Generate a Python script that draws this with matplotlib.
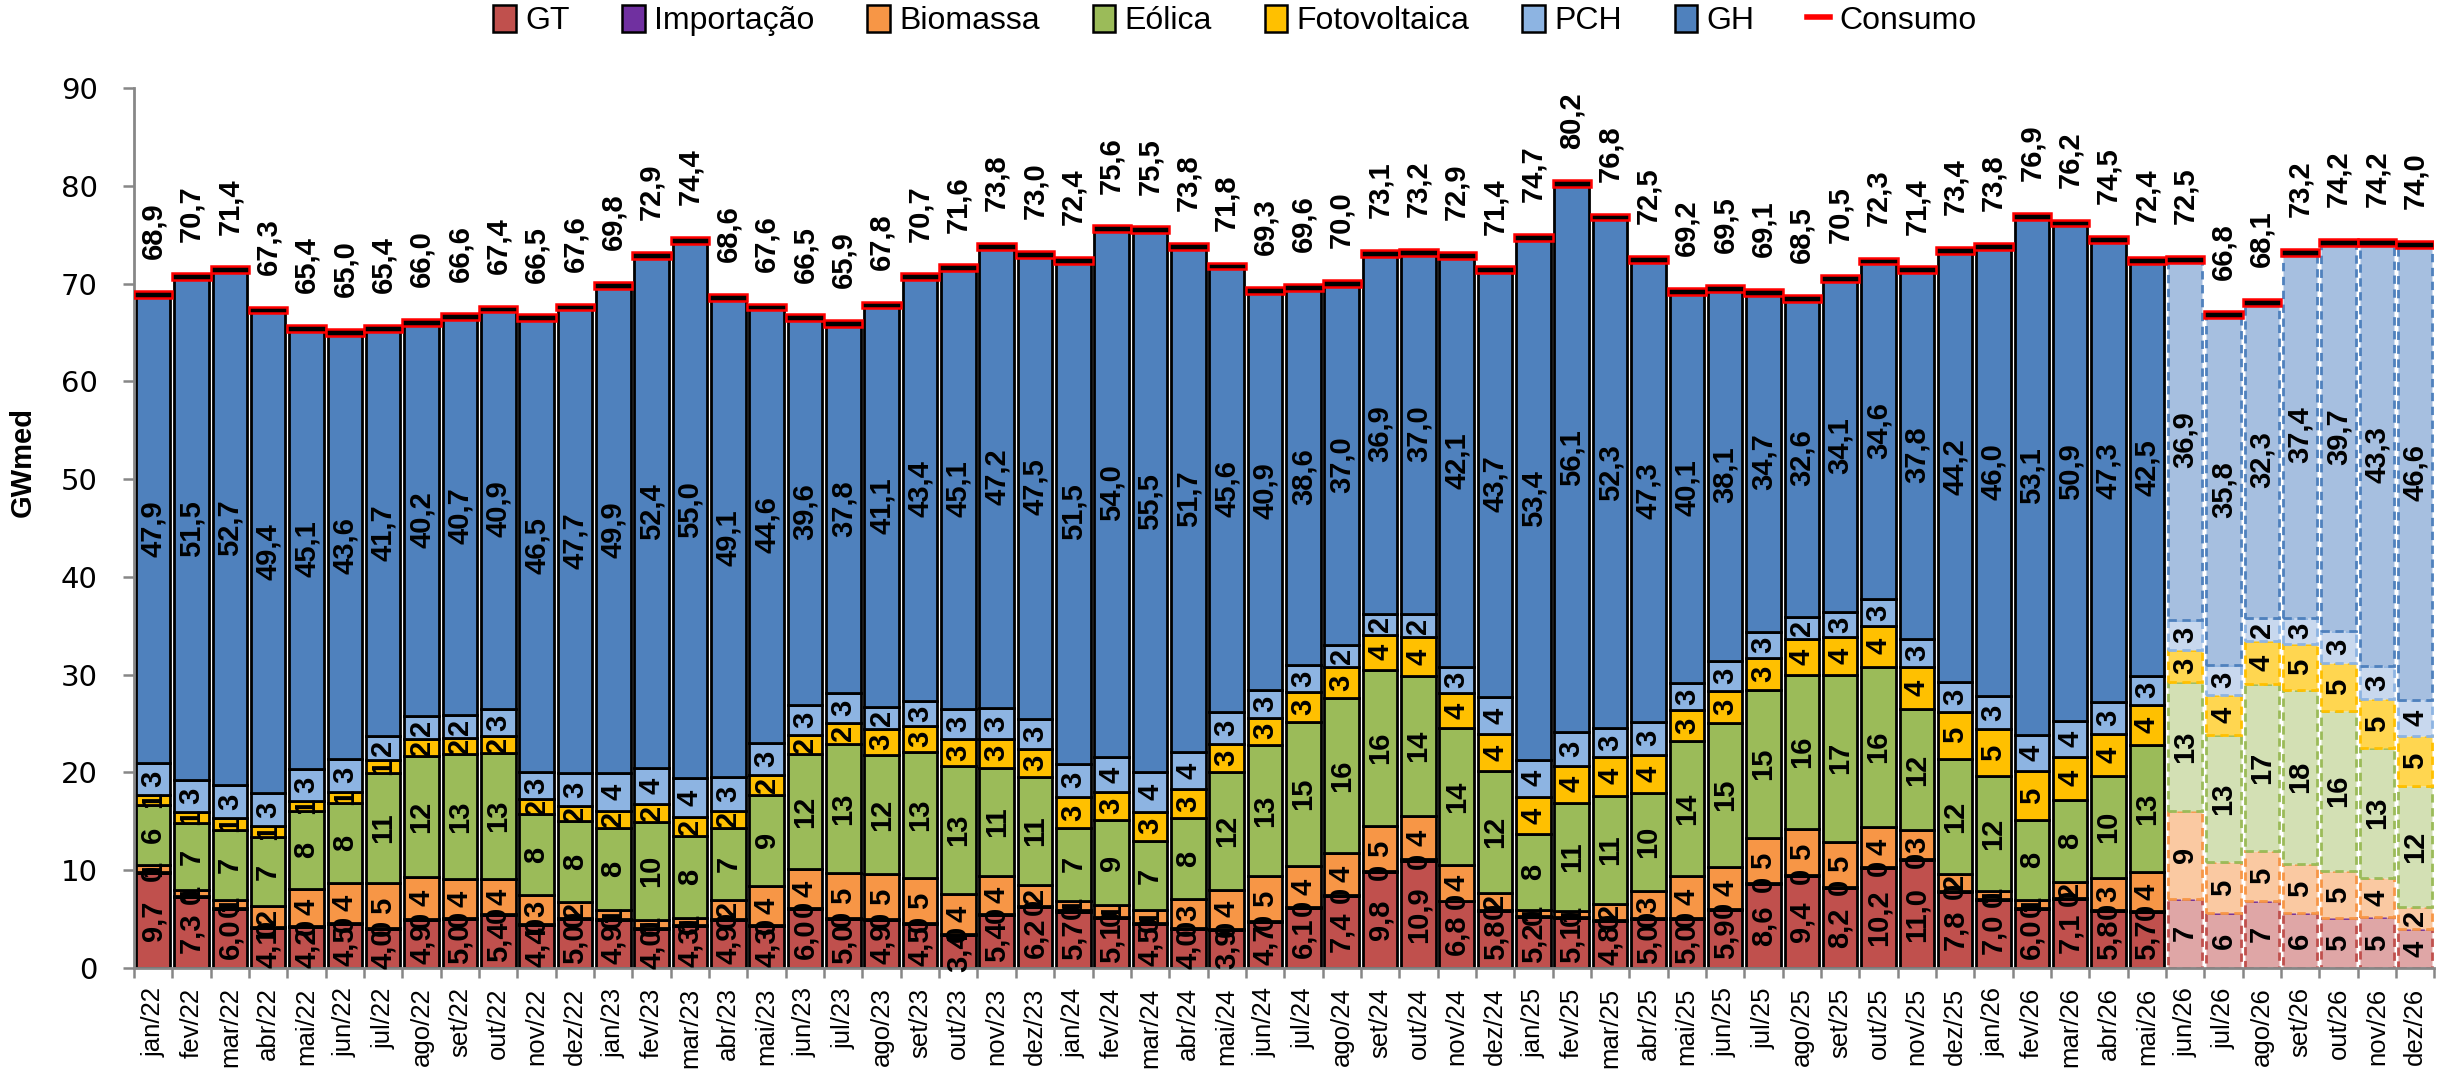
import numpy as np
import matplotlib.pyplot as plt
from matplotlib.patches import Patch
from matplotlib.lines import Line2D

plt.rcParams['font.family'] = ['Liberation Sans', 'DejaVu Sans']

# meses de jan/22 a dez/26; a partir de jun/26 os valores são previsão
anos = ['22', '23', '24', '25', '26']
nomes = ['jan', 'fev', 'mar', 'abr', 'mai', 'jun', 'jul', 'ago', 'set', 'out', 'nov', 'dez']
meses = [f'{m}/{a}' for a in anos for m in nomes]
n_hist = 53  # jan/22 .. mai/26

gt = [9.7, 7.3, 6.0, 4.1, 4.2, 4.5, 4.0, 4.9, 5.0, 5.4, 4.4, 5.0,
      4.9, 4.0, 4.3, 4.9, 4.3, 6.0, 5.0, 4.9, 4.5, 3.4, 5.4, 6.2,
      5.7, 5.1, 4.5, 4.0, 3.9, 4.7, 6.1, 7.4, 9.8, 10.9, 6.8, 5.8,
      5.2, 5.1, 4.8, 5.0, 5.0, 5.9, 8.6, 9.4, 8.2, 10.2, 11.0, 7.8,
      7.0, 6.0, 7.1, 5.8, 5.7, 7.1, 5.6, 6.9, 5.6, 5.1, 5.2, 4.0]
importacao = [0.1] * 24 + [0.2] + [0.1] * 8 + [0.2] + [0.1] * 19 + [0.0] * 7
biomassa = [0.7, 0.6, 0.9, 2.1, 3.8, 4.1, 4.6, 4.3, 4.0, 3.6, 3.0, 1.6,
            0.9, 0.8, 0.7, 2.0, 4.0, 4.0, 4.6, 4.6, 4.6, 4.1, 3.9, 2.2,
            1.0, 1.2, 1.3, 3.0, 4.0, 4.6, 4.2, 4.3, 4.6, 4.4, 3.6, 1.8,
            0.6, 0.6, 1.6, 2.8, 4.3, 4.3, 4.6, 4.7, 4.6, 4.1, 3.0, 1.7,
            0.8, 0.9, 1.6, 3.3, 4.0, 9.0, 5.2, 5.1, 5.0, 4.8, 4.0, 2.2]
eolica = [6.2, 6.8, 7.1, 7.1, 8.0, 8.2, 11.2, 12.4, 12.8, 12.9, 8.2, 8.3,
          8.4, 10.0, 8.4, 7.3, 9.3, 11.8, 13.2, 12.2, 12.9, 13.1, 11.1, 11.0,
          7.4, 8.7, 7.1, 8.2, 12.0, 13.4, 14.8, 15.8, 16.0, 14.4, 14.0, 12.4,
          7.8, 11.1, 11.1, 10.0, 13.8, 14.8, 15.1, 15.8, 17.1, 16.4, 12.4, 11.8,
          11.7, 8.1, 8.4, 10.4, 13.0, 13.1, 13.0, 17.0, 17.8, 16.4, 13.3, 12.4]
fotovoltaica = [1.0, 1.2, 1.2, 1.1, 1.0, 1.1, 1.4, 1.7, 1.6, 1.7, 1.6, 1.6,
                1.8, 1.9, 1.9, 1.8, 2.0, 1.9, 2.2, 2.6, 2.6, 2.7, 2.9, 2.9,
                3.2, 2.9, 3.0, 3.0, 2.9, 2.8, 3.0, 3.2, 3.6, 3.9, 3.6, 3.8,
                3.8, 3.8, 4.0, 3.9, 3.2, 3.2, 3.3, 3.6, 3.8, 4.2, 4.3, 4.8,
                4.8, 5.0, 4.4, 4.3, 4.1, 3.3, 4.1, 4.4, 4.7, 4.9, 5.0, 5.1]
pch = [3.3, 3.2, 3.4, 3.4, 3.2, 3.4, 2.4, 2.4, 2.4, 2.8, 2.7, 3.3,
       3.8, 3.7, 4.0, 3.4, 3.3, 3.1, 3.0, 2.3, 2.6, 3.1, 3.2, 3.1,
       3.4, 3.6, 4.0, 3.8, 3.3, 2.8, 2.8, 2.2, 2.1, 2.4, 2.7, 3.8,
       3.8, 3.4, 2.9, 3.4, 2.7, 3.1, 2.7, 2.3, 2.6, 2.7, 2.8, 3.0,
       3.4, 3.7, 3.7, 3.3, 3.0, 3.1, 3.1, 2.4, 2.7, 3.3, 3.4, 3.7]
gh = [47.9, 51.5, 52.7, 49.4, 45.1, 43.6, 41.7, 40.2, 40.7, 40.9, 46.5, 47.7,
      49.9, 52.4, 55.0, 49.1, 44.6, 39.6, 37.8, 41.1, 43.4, 45.1, 47.2, 47.5,
      51.5, 54.0, 55.5, 51.7, 45.6, 40.9, 38.6, 37.0, 36.9, 37.0, 42.1, 43.7,
      53.4, 56.1, 52.3, 47.3, 40.1, 38.1, 34.7, 32.6, 34.1, 34.6, 37.8, 44.2,
      46.0, 53.1, 50.9, 47.3, 42.5, 36.9, 35.8, 32.3, 37.4, 39.7, 43.3, 46.6]
consumo = [68.9, 70.7, 71.4, 67.3, 65.4, 65.0, 65.4, 66.0, 66.6, 67.4, 66.5, 67.6,
           69.8, 72.9, 74.4, 68.6, 67.6, 66.5, 65.9, 67.8, 70.7, 71.6, 73.8, 73.0,
           72.4, 75.6, 75.5, 73.8, 71.8, 69.3, 69.6, 70.0, 73.1, 73.2, 72.9, 71.4,
           74.7, 80.2, 76.8, 72.5, 69.2, 69.5, 69.1, 68.5, 70.5, 72.3, 71.4, 73.4,
           73.8, 76.9, 76.2, 74.5, 72.4, 72.5, 66.8, 68.1, 73.2, 74.2, 74.2, 74.0]

# (nome, valores, cor, cor da previsão, casas decimais histórico/previsão)
fontes = [
    ('GT', gt, '#C0504D', '#DFA6A6', (1, 0)),
    ('Importação', importacao, '#7030A0', '#B9A0CF', (0, 0)),
    ('Biomassa', biomassa, '#F79646', '#FAC9A2', (0, 0)),
    ('Eólica', eolica, '#9BBB59', '#D3E0B4', (0, 0)),
    ('Fotovoltaica', fotovoltaica, '#FFC000', '#FFD650', (0, 0)),
    ('PCH', pch, '#8DB4E2', '#C8D8EE', (0, 0)),
    ('GH', gh, '#4F81BD', '#A6BFE0', (1, 1)),
]


def fmt(v, casas):
    return f'{v:.{casas}f}'.replace('.', ',')


fig = plt.figure(figsize=(24.55, 10.76), dpi=100)
ax = fig.add_axes([0.0546, 0.1004, 0.937, 0.8178])

x = np.arange(len(meses))
h = slice(0, n_hist)
p = slice(n_hist, None)
base = np.zeros(len(meses))
rotulo = dict(rotation=90, ha='center', va='center', fontsize=21, fontweight='bold')

for nome, vals, cor, cor_prev, casas in fontes:
    vals = np.array(vals)
    ax.bar(x[h], vals[h], 0.9, bottom=base[h], color=cor, edgecolor='black', linewidth=2.0)
    ax.bar(x[p], vals[p], 0.9, bottom=base[p], color=cor_prev, edgecolor=cor,
           linewidth=2.0, linestyle=(0, (3, 2)))
    for i in x:
        if i >= n_hist and vals[i] == 0:
            continue
        c = casas[0] if i < n_hist else casas[1]
        ax.text(i, base[i] + vals[i] / 2, fmt(vals[i], c), **rotulo)
    base += vals

# consumo: traço preto com contorno vermelho no topo de cada coluna
consumo = np.array(consumo)
ax.bar(x, 0.7, 1.0, bottom=consumo - 0.35, color='black', edgecolor='red', linewidth=1.8, zorder=3)
for i in x:
    ax.text(i, consumo[i] + 3.6, fmt(consumo[i], 1), rotation=90, ha='center', va='bottom',
            fontsize=21, fontweight='bold')

ax.set_xlim(-0.5, len(meses) - 0.5)
ax.set_ylim(0, 90)
ax.set_xticks(x)
ax.set_xticklabels(meses, rotation=90, fontsize=18.5)
ax.set_xticks(np.arange(-0.5, len(meses), 1), minor=True)
ax.tick_params(axis='x', which='major', length=0, pad=14)
ax.tick_params(axis='x', which='minor', length=7, width=1.8, color='#878787')
ax.set_yticks(range(0, 91, 10))
ax.tick_params(axis='y', length=8, width=1.8, color='#878787', pad=18)
for t in ax.get_yticklabels():
    t.set_fontfamily('DejaVu Sans')
    t.set_fontsize(21)
for s in ['top', 'right']:
    ax.spines[s].set_visible(False)
for s in ['left', 'bottom']:
    ax.spines[s].set_color('#878787')
    ax.spines[s].set_linewidth(2)

fig.text(23 / 2455, 1 - 462 / 1076, 'GWmed', rotation=90, ha='center', va='center',
         fontsize=21, fontweight='bold')

handles = [Patch(facecolor=cor, edgecolor='black', linewidth=1.8) for _, _, cor, _, _ in fontes]
handles.append(Line2D([], [], color='red', linewidth=4))
nomes_leg = [f[0] for f in fontes] + ['Consumo']
fig.legend(handles, nomes_leg, loc='upper center', bbox_to_anchor=(0.503, 1.022), ncol=8,
           frameon=False, fontsize=23, handlelength=0.7, handleheight=0.9,
           handletextpad=0.3, columnspacing=1.65)

fig.savefig('out.png', dpi=100)
